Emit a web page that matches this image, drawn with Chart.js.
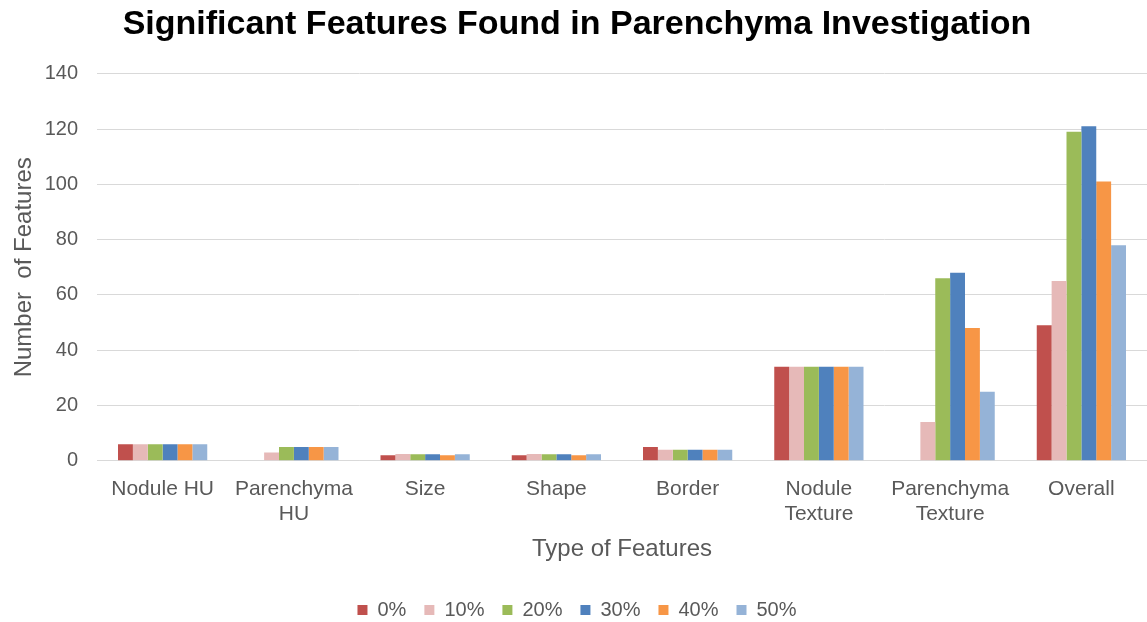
<!DOCTYPE html>
<html>
<head>
<meta charset="utf-8">
<script src="https://cdn.jsdelivr.net/npm/chart.js@4/dist/chart.umd.min.js"></script>
<style>
  html, body { margin: 0; padding: 0; background: #fff; }
  #wrap { width: 1147px; height: 622px; }
</style>
</head>
<body>
<div id="wrap"><canvas id="chart" width="1147" height="622"></canvas></div>
<script>
const categories = [
  "Nodule HU",
  ["Parenchyma", "HU"],
  "Size",
  "Shape",
  "Border",
  ["Nodule", "Texture"],
  ["Parenchyma", "Texture"],
  "Overall",
];
const seriesNames = ["0%", "10%", "20%", "30%", "40%", "50%"];
const pct0 = [6, 0, 2, 2, 5, 34, 0, 49];
const pct10 = [6, 3, 2.5, 2.5, 4, 34, 14, 65];
const pct20 = [6, 5, 2.4, 2.4, 4, 34, 66, 119];
const pct30 = [6, 5, 2.4, 2.4, 4, 34, 68, 121];
const pct40 = [6, 5, 2, 2, 4, 34, 48, 101];
const pct50 = [6, 5, 2.4, 2.4, 4, 34, 25, 78];
const yTicks = [0, 20, 40, 60, 80, 100, 120, 140];

const colors = ["#C0504D", "#E6B9B8", "#9BBB59", "#4F81BD", "#F79646", "#95B3D7"];
const values = [pct0, pct10, pct20, pct30, pct40, pct50];

const textColor = "#595959";
const font = "'Liberation Sans', Arial, sans-serif";

new Chart(document.getElementById("chart"), {
  type: "bar",
  data: {
    labels: categories,
    datasets: values.map((v, i) => ({
      label: seriesNames[i],
      data: v,
      backgroundColor: colors[i],
      borderWidth: 0,
      barPercentage: 1,
      categoryPercentage: 0.68,
    })),
  },
  options: {
    responsive: false,
    animation: false,
    // plot area runs past the right edge in the original crop
    layout: { padding: { left: 0, right: -7, top: 4, bottom: -8 } },
    plugins: {
      title: {
        display: true,
        text: "Significant Features Found in Parenchyma Investigation",
        color: "#000",
        font: { family: font, size: 34, weight: "bold" },
        padding: { top: 0, bottom: 29 },
      },
      legend: {
        position: "bottom",
        labels: {
          color: textColor,
          font: { family: font, size: 20 },
          boxWidth: 10,
          boxHeight: 10,
          padding: 18,
        },
      },
      tooltip: { enabled: false },
    },
    scales: {
      x: {
        grid: { display: false },
        border: { display: true, color: "#d9d9d9", width: 1 },
        ticks: { color: textColor, font: { family: font, size: 21, lineHeight: 1.2 }, padding: 8, maxRotation: 0 },
        title: {
          display: true,
          text: "Type of Features",
          color: textColor,
          font: { family: font, size: 24 },
          padding: { top: 0, bottom: 18 },
        },
      },
      y: {
        min: 0,
        max: 140,
        afterBuildTicks: (axis) => { axis.ticks = yTicks.map((v) => ({ value: v })); },
        afterFit: (axis) => { axis.width = 97; },
        grid: { color: "#d9d9d9", drawTicks: false },
        border: { display: false },
        ticks: { color: textColor, font: { family: font, size: 20 }, padding: 19 },
        title: {
          display: true,
          text: "Number  of Features",
          color: textColor,
          font: { family: font, size: 24 },
          padding: { top: 10, bottom: 0 },
        },
      },
    },
  },
});
</script>
</body>
</html>
